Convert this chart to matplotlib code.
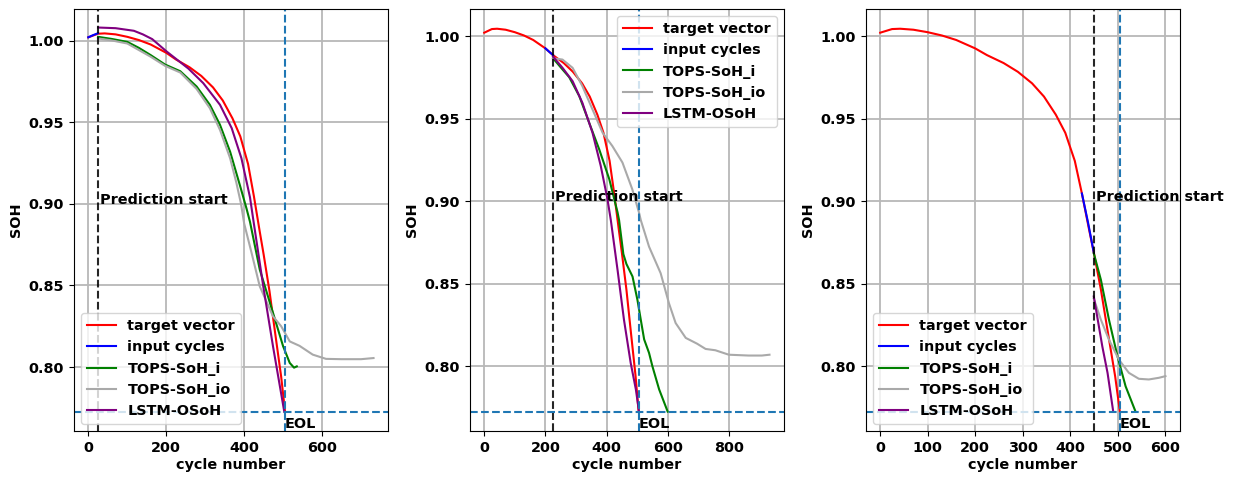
import matplotlib.pyplot as plt

# === Configuration ===

plt.rcParams['font.family'] = ['DejaVu Sans']
plt.rcParams['font.weight'] = 'bold'
plt.rcParams['axes.labelweight'] = 'bold'
plt.rcParams['font.size'] = 10.4

# End of life threshold
eol_cycle = 505
eol_soh = 0.7725

# Prediction start per panel
pred_start = [25, 225, 450]

# Target vector (same battery in all panels)
tgt_x = [0, 25, 42, 70, 100, 130, 160, 200, 225, 260, 290, 320, 345, 370, 390,
         410, 425, 440, 450, 465, 480, 495, 505]
tgt_y = [1.0022, 1.0044, 1.0046, 1.0040, 1.0025, 1.0005, 0.9978, 0.9927, 0.9886,
         0.9838, 0.9785, 0.9715, 0.9635, 0.9525, 0.9415, 0.9245, 0.9047, 0.8830,
         0.8690, 0.8465, 0.8200, 0.7940, 0.7725]

# Input cycles
inp1_x = [0, 12, 25]
inp1_y = [1.0022, 1.0035, 1.0047]
inp2_x = [200, 212, 225]
inp2_y = [0.9927, 0.9907, 0.9886]
inp3_x = [425, 438, 450]
inp3_y = [0.9047, 0.8870, 0.8690]

# Panel 1 predictions
p1_i_x = [25, 60, 100, 130, 160, 197, 236, 278, 312, 338, 364, 389, 406, 415,
          440, 474, 500, 517, 528, 535]
p1_i_y = [1.0025, 1.0012, 0.9994, 0.9957, 0.9913, 0.9855, 0.9814, 0.9720, 0.9608,
          0.9485, 0.9320, 0.9115, 0.8972, 0.8890, 0.8598, 0.8332, 0.8127, 0.8025,
          0.7996, 0.8004]
p1_io_x = [25, 60, 100, 160, 197, 236, 278, 312, 338, 364, 380, 392, 400, 419,
           440, 474, 495, 517, 542, 576, 610, 650, 700, 732]
p1_io_y = [1.0015, 1.0003, 0.9984, 0.9903, 0.9847, 0.9806, 0.9705, 0.9587, 0.9454,
           0.9280, 0.9130, 0.9000, 0.8880, 0.8700, 0.8495, 0.8311, 0.8250, 0.8157,
           0.8130, 0.8076, 0.8050, 0.8048, 0.8048, 0.8055]
p1_lstm_x = [25, 70, 117, 140, 164, 201, 257, 295, 338, 368, 393, 415, 423, 449,
             474, 503]
p1_lstm_y = [1.0082, 1.0078, 1.0062, 1.0040, 1.0011, 0.9935, 0.9830, 0.9741, 0.9608,
             0.9465, 0.9280, 0.9040, 0.8910, 0.8495, 0.8127, 0.7725]

# Panel 2 predictions
p2_i_x = [225, 256, 278, 311, 343, 376, 409, 436, 441, 455, 465, 485, 501, 512,
          523, 539, 550, 572, 600]
p2_i_y = [0.9867, 0.9799, 0.9752, 0.9637, 0.9477, 0.9315, 0.9134, 0.8933, 0.8886,
          0.8680, 0.8620, 0.8544, 0.8403, 0.8282, 0.8163, 0.8081, 0.8000, 0.7860,
          0.7725]
p2_io_x = [226, 256, 289, 321, 354, 387, 419, 452, 484, 506, 512, 539, 577, 604,
           626, 659, 696, 724, 756, 800, 865, 908, 933]
p2_io_y = [0.9867, 0.9859, 0.9809, 0.9698, 0.9557, 0.9416, 0.9335, 0.9235, 0.9074,
           0.8933, 0.8886, 0.8725, 0.8564, 0.8383, 0.8262, 0.8172, 0.8137, 0.8105,
           0.8097, 0.8070, 0.8065, 0.8065, 0.8070]
p2_lstm_x = [225, 256, 289, 321, 354, 381, 403, 414, 436, 457, 479, 496, 506]
p2_lstm_y = [0.9877, 0.9809, 0.9728, 0.9597, 0.9416, 0.9215, 0.9013, 0.8886, 0.8584,
             0.8282, 0.8020, 0.7859, 0.7728]

# Panel 3 predictions
p3_i_x = [450, 465, 482, 500, 517, 538]
p3_i_y = [0.8685, 0.8524, 0.8282, 0.8060, 0.7879, 0.7725]
p3_io_x = [450, 465, 482, 503, 524, 545, 566, 587, 601]
p3_io_y = [0.8410, 0.8282, 0.8161, 0.8040, 0.7960, 0.7924, 0.7920, 0.7930, 0.7940]
p3_lstm_x = [450, 468, 479, 491]
p3_lstm_y = [0.8423, 0.8120, 0.7960, 0.7725]

panels = [
    (inp1_x, inp1_y, p1_i_x, p1_i_y, p1_io_x, p1_io_y, p1_lstm_x, p1_lstm_y, 'lower left'),
    (inp2_x, inp2_y, p2_i_x, p2_i_y, p2_io_x, p2_io_y, p2_lstm_x, p2_lstm_y, 'upper right'),
    (inp3_x, inp3_y, p3_i_x, p3_i_y, p3_io_x, p3_io_y, p3_lstm_x, p3_lstm_y, 'lower left'),
]

# === Plot ===

fig, axes = plt.subplots(1, 3, figsize=(12.34, 4.79), dpi=100)
plt.subplots_adjust(left=0.06, right=0.956, top=0.981, bottom=0.100, wspace=0.262)

for ax, start, (ix, iy, gx, gy, ox, oy, lx, ly, loc) in zip(axes, pred_start, panels):
    ax.plot(tgt_x, tgt_y, color='red', lw=1.5, label='target vector')
    ax.plot(ix, iy, color='blue', lw=1.5, label='input cycles')
    ax.plot(gx, gy, color='green', lw=1.5, label='TOPS-SoH_i')
    ax.plot(ox, oy, color='darkgrey', lw=1.5, label='TOPS-SoH_io')
    ax.plot(lx, ly, color='purple', lw=1.5, label='LSTM-OSoH')

    ax.axvline(start, color='k', ls='--', lw=1.5, alpha=0.85)
    ax.axvline(eol_cycle, color='#1f77b4', ls='--', lw=1.5)
    ax.axhline(eol_soh, color='#1f77b4', ls='--', lw=1.5)
    ax.text(start + 5, 0.9, 'Prediction start')
    ax.text(eol_cycle, eol_soh - 0.01, 'EOL')

    ax.set_ylim(0.7607, 1.0195 if ax is axes[0] else 1.0165)
    ax.set_yticks([0.80, 0.85, 0.90, 0.95, 1.00])
    ax.set_xlabel('cycle number', labelpad=2)
    ax.set_ylabel('SOH')
    ax.grid(True, color='#b8b8b8', lw=1.3)
    ax.legend(loc=loc)

plt.savefig('out.png')
